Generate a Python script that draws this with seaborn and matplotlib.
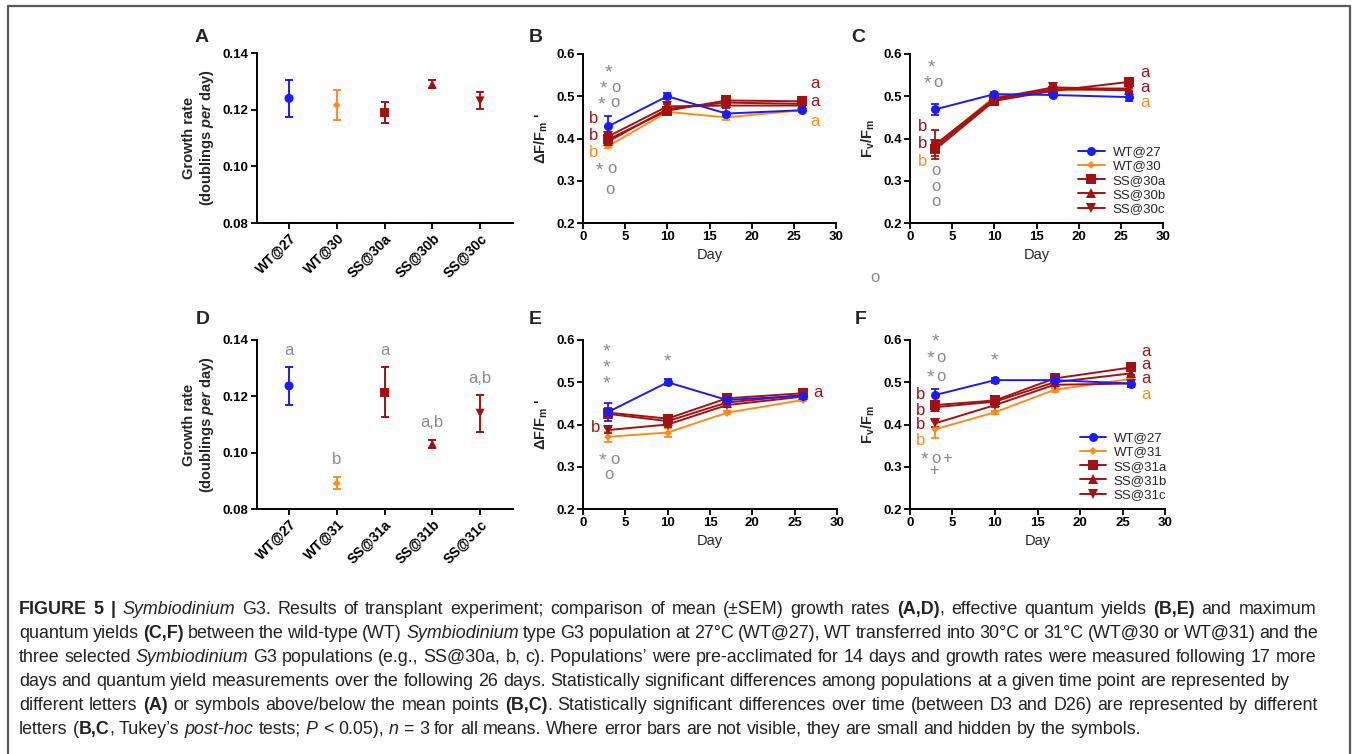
import re
import matplotlib
matplotlib.use("Agg")
import matplotlib.pyplot as plt
import seaborn as sns
from matplotlib.lines import Line2D
from matplotlib.transforms import IdentityTransform

sns.set_theme(style="ticks")
plt.rcParams['font.family'] = ['Liberation Sans', 'DejaVu Sans']
plt.rcParams['mathtext.fontset'] = 'custom'
plt.rcParams['mathtext.rm'] = 'Liberation Sans'
plt.rcParams['mathtext.it'] = 'Liberation Sans:italic'
plt.rcParams['mathtext.bf'] = 'Liberation Sans:bold'
plt.rcParams['mathtext.bfit'] = 'Liberation Sans:italic:bold'

W, H = 1358, 754

# ---- data ----
groups30 = ["WT@27", "WT@30", "SS@30a", "SS@30b", "SS@30c"]
groups31 = ["WT@27", "WT@31", "SS@31a", "SS@31b", "SS@31c"]
growth30 = [0.1240, 0.1216, 0.1190, 0.1290, 0.1231]
growth30_sem = [0.0065, 0.0053, 0.0037, 0.0015, 0.0030]
growth31 = [0.1237, 0.0891, 0.1214, 0.1031, 0.1140]
growth31_sem = [0.0066, 0.0021, 0.0089, 0.0013, 0.0065]

days = [3, 10, 17, 26]

# effective quantum yield, 30 C (panel B), rows follow groups30
effq30 = [[0.429, 0.500, 0.459, 0.467],
          [0.382, 0.463, 0.450, 0.467],
          [0.398, 0.466, 0.490, 0.488],
          [0.393, 0.470, 0.485, 0.482],
          [0.405, 0.476, 0.478, 0.478]]
effq30_sem = [[0.024, 0.007, 0.004, 0.004],
              [0.005, 0.006, 0.007, 0.004],
              [0.006, 0.006, 0.006, 0.006],
              [0.005, 0.005, 0.005, 0.005],
              [0.005, 0.005, 0.005, 0.005]]
# maximum quantum yield, 30 C (panel C)
maxq30 = [[0.469, 0.505, 0.503, 0.498],
          [0.383, 0.499, 0.513, 0.520],
          [0.374, 0.489, 0.513, 0.534],
          [0.380, 0.492, 0.517, 0.514],
          [0.386, 0.495, 0.521, 0.517]]
maxq30_sem = [[0.013, 0.006, 0.004, 0.009],
              [0.006, 0.004, 0.004, 0.004],
              [0.015, 0.006, 0.005, 0.005],
              [0.010, 0.006, 0.005, 0.005],
              [0.035, 0.012, 0.005, 0.005]]
# effective quantum yield, 31 C (panel E)
effq31 = [[0.430, 0.500, 0.458, 0.468],
          [0.371, 0.381, 0.428, 0.458],
          [0.428, 0.414, 0.462, 0.474],
          [0.425, 0.408, 0.452, 0.470],
          [0.387, 0.400, 0.446, 0.466]]
effq31_sem = [[0.022, 0.007, 0.004, 0.004],
              [0.012, 0.011, 0.004, 0.003],
              [0.012, 0.005, 0.004, 0.004],
              [0.008, 0.005, 0.004, 0.004],
              [0.006, 0.005, 0.004, 0.004]]
# maximum quantum yield, 31 C (panel F)
maxq31 = [[0.470, 0.505, 0.505, 0.497],
          [0.389, 0.429, 0.482, 0.508],
          [0.446, 0.457, 0.509, 0.535],
          [0.441, 0.454, 0.500, 0.521],
          [0.403, 0.446, 0.494, 0.497]]
maxq31_sem = [[0.014, 0.006, 0.004, 0.009],
              [0.020, 0.004, 0.004, 0.004],
              [0.010, 0.006, 0.004, 0.005],
              [0.008, 0.006, 0.004, 0.005],
              [0.008, 0.005, 0.004, 0.005]]

BLUE = "#1a1aff"
ORANGE = "#ff8c1a"
DRED = "#a31212"
GRAY = "#8a8a8a"
colors = [BLUE, ORANGE, DRED, DRED, DRED]
markers = ['o', 'D', 's', '^', 'v']
msizes = [6.5, 4, 6.5, 6.5, 6.5]

# significance letters / symbols (x, y, text)
letters_b = [(27.5, 0.530, 'a', DRED), (27.5, 0.487, 'a', DRED), (27.5, 0.440, 'a', ORANGE),
             (1.2, 0.447, 'b', DRED), (1.2, 0.408, 'b', DRED), (1.2, 0.367, 'b', ORANGE)]
letters_c = [(27.8, 0.556, 'a', DRED), (27.8, 0.521, 'a', DRED), (27.8, 0.485, 'a', ORANGE),
             (1.5, 0.429, 'b', DRED), (1.5, 0.388, 'b', DRED), (1.5, 0.345, 'b', ORANGE)]
letters_e = [(27.8, 0.476, 'a', DRED), (1.5, 0.392, 'b', DRED)]
letters_f = [(27.8, 0.572, 'a', DRED), (27.8, 0.541, 'a', DRED), (27.8, 0.510, 'a', DRED),
             (27.8, 0.471, 'a', ORANGE),
             (1.2, 0.470, 'b', DRED), (1.2, 0.434, 'b', DRED), (1.2, 0.401, 'b', DRED),
             (1.2, 0.363, 'b', ORANGE)]
letters_d = [(0, 0.1361, 'a'), (1, 0.0974, 'b'), (2, 0.1361, 'a'), (3, 0.1107, 'a,b'), (4, 0.1264, 'a,b')]

symbols_b = [(2.97, 0.560, '*'), (2.37, 0.521, '*'), (3.88, 0.521, 'o'), (2.2, 0.485, '*'),
             (3.76, 0.485, 'o'), (1.98, 0.329, '*'), (3.48, 0.330, 'o'), (3.17, 0.279, 'o')]
symbols_c = [(2.57, 0.572, '*'), (2.05, 0.533, '*'), (3.36, 0.533, 'o'),
             (3.08, 0.325, 'o'), (3.08, 0.287, 'o'), (3.08, 0.251, 'o')]
symbols_e = [(2.76, 0.576, '*'), (2.76, 0.538, '*'), (2.76, 0.500, '*'), (9.92, 0.553, '*'),
             (2.28, 0.318, '*'), (3.74, 0.318, 'o'), (3.07, 0.282, 'o')]
symbols_f = [(2.94, 0.600, '*'), (2.35, 0.559, '*'), (3.61, 0.559, 'o'), (2.35, 0.514, '*'),
             (3.61, 0.514, 'o'), (1.65, 0.320, '*'), (3.06, 0.320, 'o'), (4.39, 0.320, '+'),
             (2.86, 0.290, '+'), (9.88, 0.554, '*')]

caption = [
    "**FIGURE 5 |** *Symbiodinium* G3. Results of transplant experiment; comparison of mean (\u00b1SEM) growth rates **(A,D)**, effective quantum yields **(B,E)** and maximum",
    "quantum yields **(C,F)** between the wild-type (WT) *Symbiodinium* type G3 population at 27\u00b0C (WT@27), WT transferred into 30\u00b0C or 31\u00b0C (WT@30 or WT@31) and the",
    "three selected *Symbiodinium* G3 populations (e.g., SS@30a, b, c). Populations\u2019 were pre-acclimated for 14 days and growth rates were measured following 17 more",
    "days and quantum yield measurements over the following 26 days. Statistically significant differences among populations at a given time point are represented by",
    "different letters **(A)** or symbols above/below the mean points **(B,C)**. Statistically significant differences over time (between D3 and D26) are represented by different",
    "letters (**B,C**, Tukey\u2019s *post-hoc* tests; *P* < 0.05), *n* = 3 for all means. Where error bars are not visible, they are small and hidden by the symbols.",
]
# right edge (px) of each caption line; None = not justified
caption_right = [1316, 1318, 1316, 1290, 1318, None]


def px_axes(fig, left, right, top, bottom):
    return fig.add_axes([left / W, 1 - bottom / H, (right - left) / W, (bottom - top) / H])


def style_axes(ax, xsize=9.5):
    sns.despine(ax=ax)
    for s in ['left', 'bottom']:
        ax.spines[s].set_linewidth(1.4)
        ax.spines[s].set_color('black')
    ax.tick_params(direction='out', length=4, width=1.3, labelsize=9.5, pad=2, colors='black')
    ax.tick_params(axis='x', labelsize=xsize)
    for lab in ax.get_xticklabels() + ax.get_yticklabels():
        lab.set_fontweight('bold')


def growth_panel(ax, groups, vals, sems, notes=None):
    sns.scatterplot(x=groups, y=vals, hue=groups, style=groups,
                    palette=dict(zip(groups, colors)), markers=dict(zip(groups, markers)),
                    size=groups, sizes=dict(zip(groups, [m ** 2 for m in msizes])),
                    linewidth=0, legend=False, ax=ax, zorder=3)
    for i in range(len(groups)):
        ax.errorbar(i, vals[i], yerr=sems[i], fmt='none', ecolor=colors[i],
                    elinewidth=1.4, capsize=3, capthick=1.4, zorder=2)
    ax.set_xlim(-0.67, 4.69)
    ax.set_ylim(0.08, 0.14)
    ax.set_yticks([0.08, 0.10, 0.12, 0.14])
    ax.set_yticklabels(['0.08', '0.10', '0.12', '0.14'])
    ax.set_xticks(range(len(groups)))
    ax.set_xticklabels(groups, rotation=45, ha='right', rotation_mode='anchor')
    ax.set_ylabel("Growth rate\n(doublings $\\mathbfit{per}$ day)", fontsize=10.5,
                  fontweight='bold', labelpad=5, linespacing=1.1)
    style_axes(ax, xsize=10)
    if notes:
        for x, y, t in notes:
            ax.text(x, y, t, color=GRAY, fontsize=12, ha='center', va='center')


def yield_panel(ax, series, sems, ylabel, letters, symbols, legend_labels=None):
    order = [1, 2, 3, 4, 0]
    for i in order:
        ax.errorbar(days, series[i], yerr=sems[i], fmt='none', ecolor=colors[i],
                    elinewidth=1.3, capsize=3, capthick=1.3, zorder=2)
        sns.lineplot(x=days, y=series[i], ax=ax, color=colors[i], marker=markers[i],
                     markersize=msizes[i], markeredgecolor=colors[i], markeredgewidth=0,
                     linewidth=1.4, legend=False, zorder=3)
    ax.set_xlim(0, 30)
    ax.set_ylim(0.2, 0.6)
    ax.set_xticks([0, 5, 10, 15, 20, 25, 30])
    ax.set_yticks([0.2, 0.3, 0.4, 0.5, 0.6])
    ax.set_yticklabels(['0.2', '0.3', '0.4', '0.5', '0.6'])
    ax.set_xlabel("Day", fontsize=10.5, labelpad=3)
    ax.set_ylabel(ylabel, fontsize=10.5, fontweight='bold', labelpad=4)
    style_axes(ax)
    for x, y, t, c in letters:
        ax.text(x, y, t, color=c, fontsize=12, ha='center', va='center')
    for x, y, t in symbols:
        ax.text(x, y, t, color=GRAY, fontsize=14 if t == '*' else 12,
                ha='center', va='center_baseline' if t == '*' else 'center')
    if legend_labels:
        handles = [Line2D([], [], color=colors[i], marker=markers[i], markersize=msizes[i],
                          markeredgewidth=0, linewidth=1.4) for i in range(5)]
        ax.legend(handles, legend_labels, loc='upper left', bbox_to_anchor=(0.665, 0.455),
                  frameon=False, fontsize=9.5, handlelength=2.0, handletextpad=0.6,
                  labelspacing=0.15, borderpad=0, borderaxespad=0)


fig = plt.figure(figsize=(W / 100, H / 100), dpi=100)

axA = px_axes(fig, 257, 513, 53, 223)
axB = px_axes(fig, 583, 836, 54, 223)
axC = px_axes(fig, 910, 1163, 54, 223)
axD = px_axes(fig, 257, 513, 340, 509)
axE = px_axes(fig, 583, 837, 340, 509)
axF = px_axes(fig, 910, 1165, 340, 509)

lab_eff = "\u0394F/F$_\\mathbf{m}$ '"
lab_max = "F$_\\mathbf{v}$/F$_\\mathbf{m}$"

growth_panel(axA, groups30, growth30, growth30_sem)
growth_panel(axD, groups31, growth31, growth31_sem, letters_d)
yield_panel(axB, effq30, effq30_sem, lab_eff, letters_b, symbols_b)
yield_panel(axC, maxq30, maxq30_sem, lab_max, letters_c, symbols_c, groups30)
yield_panel(axE, effq31, effq31_sem, lab_eff, letters_e, symbols_e)
yield_panel(axF, maxq31, maxq31_sem, lab_max, letters_f, symbols_f, groups31)

# panel letters
for t, x, y in [('A', 202, 38), ('B', 536, 38), ('C', 858, 38),
                ('D', 203, 320), ('E', 535, 320), ('F', 861, 320)]:
    fig.text(x / W, 1 - y / H, t, fontsize=14, fontweight='bold', ha='center', va='center')

# stray symbol under panel C
fig.text(875 / W, 1 - 278 / H, 'o', color=GRAY, fontsize=12, ha='center', va='center')

# outer frame
fig.add_artist(Line2D([8 / W, 8 / W, 1350 / W, 1350 / W], [-0.02, 1 - 6 / H, 1 - 6 / H, -0.02],
                      color='#5a5a5a', linewidth=1.6))

# caption: justified lines with mixed bold / italic words
fig.canvas.draw()
renderer = fig.canvas.get_renderer()
cap_size = 12.9
space_w = 0.278 * cap_size * 100 / 72
x0 = 19
for n, line in enumerate(caption):
    tokens = []
    gap = 0
    for piece in re.split(r'(\*\*.+?\*\*|\*.+?\*)', line):
        if not piece:
            continue
        weight, style = 'normal', 'normal'
        if piece.startswith('**'):
            piece, weight = piece[2:-2], 'bold'
        elif piece.startswith('*'):
            piece, style = piece[1:-1], 'italic'
        for word in re.split(r'( )', piece):
            if word == ' ':
                gap += 1
            elif word:
                tokens.append([word, weight, style, gap, None])
                gap = 0
    y = H - (614 + 24 * n)
    nspace = 0
    total = 0
    for tok in tokens:
        t = fig.text(0, y, tok[0], transform=IdentityTransform(), fontsize=cap_size,
                     fontweight=tok[1], fontstyle=tok[2], color='#222222',
                     ha='left', va='baseline')
        bb = t.get_window_extent(renderer)
        tok[4] = t
        total += bb.width
        nspace += tok[3]
    sw = space_w
    if caption_right[n] is not None and nspace:
        sw = (caption_right[n] - x0 - total) / nspace
    x = x0
    for word, weight, style, g, t in tokens:
        x += g * sw
        t.set_x(x)
        x += t.get_window_extent(renderer).width

fig.savefig("out.png", dpi=100)
